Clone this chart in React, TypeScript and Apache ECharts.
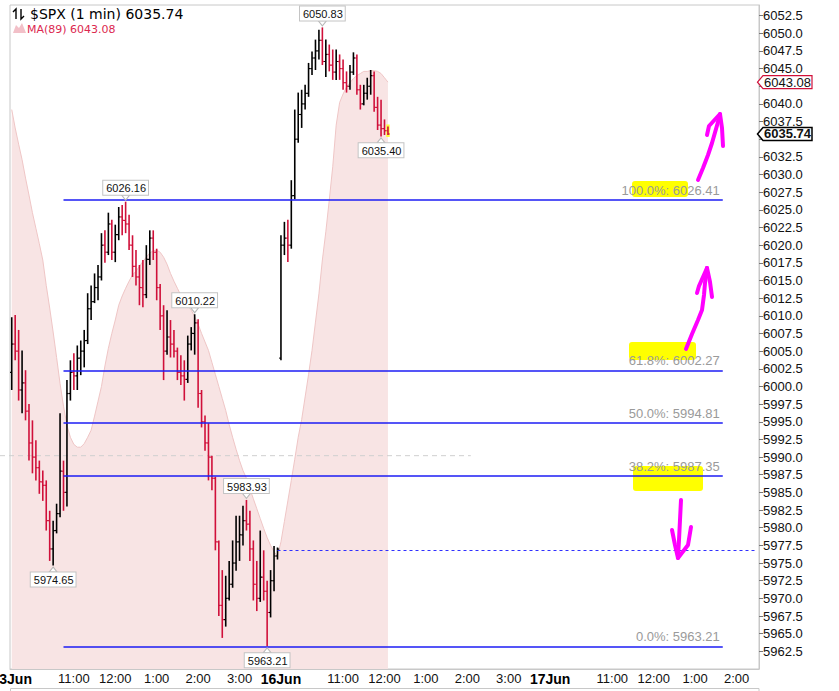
import { useEffect, useRef } from "react";
import * as echarts from "echarts";

// ---- axis structure (5-minute slots per trading session) ----
const DAYS = ["13Jun", "16Jun", "17Jun"];
const SLOTS_PER_DAY = [78, 78, 61];
const SESSION_START_MIN = 9 * 60 + 30;
const BAR_MINUTES = 5;

// ---- 13 Jun bars (OHLC) ----
const jun13Open = [6002, 6006, 6005, 5999.5, 6000.5, 5996.5, 5992, 5990, 5988.5, 5986.5, 5986, 5981, 5977, 5979.6, 5982, 5988, 5985, 5999, 6002, 6001.5, 6004, 6005, 6006.5, 6011, 6012, 6014, 6015.5, 6020, 6019, 6023, 6019, 6021.5, 6024, 6023.5, 6023, 6020, 6017, 6015.5, 6014, 6013, 6018, 6021, 6019, 6014, 6010, 6005, 6007, 6006, 6005, 6002, 6001.5, 6001, 6006, 6007.5, 6009, 5999, 5995, 5992, 5990, 5987, 5978, 5969, 5967, 5970, 5972, 5975, 5978, 5979, 5981, 5980.5, 5977, 5972, 5970, 5973, 5971, 5968, 5972.5, 5976];
const jun13High = [6009.8, 6010.1, 6008, 6005.1, 6002.3, 5997.5, 5995.2, 5992.4, 5989.5, 5988.1, 5986.7, 5982.4, 5981, 5983.4, 5996.2, 5989.5, 6000.9, 6003.7, 6004.7, 6005.8, 6006.5, 6008, 6013.2, 6014.3, 6016, 6017.2, 6021.7, 6022.1, 6024.6, 6023.6, 6022.9, 6025.4, 6025.7, 6026.16, 6024.3, 6021.4, 6019.3, 6017.2, 6017.9, 6020, 6022.1, 6022.1, 6019.5, 6014.5, 6011.5, 6010.8, 6009.4, 6008, 6005.5, 6004.4, 6003.7, 6007.2, 6008.4, 6010.22, 6009.5, 5999.5, 5995.9, 5994.8, 5990.2, 5987.2, 5978.2, 5974, 5973.2, 5975.3, 5978.2, 5981.7, 5981.7, 5983.1, 5983.93, 5982.4, 5978.2, 5975.3, 5979.6, 5976.8, 5972.5, 5974, 5977.4, 5977.2];
const jun13Low = [5999.5, 6003.7, 5998, 5996.2, 5995.2, 5989.5, 5987.7, 5986.7, 5984.8, 5983.8, 5979.6, 5975.3, 5974.65, 5979.2, 5981.5, 5982.4, 5983, 5998, 5999.5, 5999.5, 6001.6, 6002.7, 6006, 6009.4, 6011.8, 6012.2, 6015, 6017.5, 6018.6, 6017.9, 6017.6, 6020.7, 6021.4, 6021.7, 6019.3, 6015.5, 6014.3, 6011.5, 6011.2, 6012.5, 6017.2, 6017.9, 6012.2, 6008, 6000.9, 6004.5, 6004.1, 6004.1, 6000.9, 6000.2, 5998, 6000.5, 6005.1, 6004.5, 5997, 5994.2, 5990.9, 5986.7, 5985.3, 5976.8, 5967.5, 5964.4, 5966, 5969.7, 5971.5, 5973.9, 5975.3, 5977.5, 5979.6, 5975.3, 5969.7, 5968.2, 5969.5, 5969.7, 5963.21, 5967.3, 5971, 5975.5];
const jun13Close = [6006, 6005, 5999.5, 6000.5, 5996.5, 5992, 5990, 5988.5, 5986.5, 5986, 5981, 5977, 5979.6, 5982, 5988, 5985, 5999, 6002, 6001.5, 6004, 6005, 6006.5, 6011, 6012, 6014, 6015.5, 6020, 6019, 6023, 6019, 6021.5, 6024, 6023.5, 6023, 6020, 6017, 6015.5, 6014, 6013, 6018, 6021, 6019, 6014, 6010, 6005, 6007, 6006, 6005, 6002, 6001.5, 6001, 6006, 6007.5, 6009, 5999, 5995, 5992, 5990, 5987, 5978, 5969, 5967, 5970, 5972, 5975, 5978, 5979, 5981, 5980.5, 5977, 5972, 5970, 5973, 5971, 5968, 5972.5, 5976, 5976.97];

// ---- 16 Jun bars (OHLC) ----
const jun16Open = [6004, 6020, 6021, 6020, 6027, 6035, 6038.5, 6040, 6041.5, 6045, 6046.5, 6047.5, 6049, 6046, 6047, 6045.5, 6044.5, 6046, 6045, 6043, 6042.5, 6044.5, 6046.5, 6042, 6040, 6041.5, 6042.5, 6044, 6039.5, 6037, 6036.5, 6036.2];
const jun16High = [6021.4, 6023.3, 6023.6, 6029.2, 6039.2, 6041.6, 6042, 6042.7, 6045.8, 6047.4, 6049.1, 6050.5, 6050.83, 6049.1, 6048.4, 6047.7, 6047.7, 6047, 6046.3, 6044.6, 6045.5, 6047.3, 6047, 6042.7, 6042.7, 6043.7, 6044.8, 6044.6, 6041, 6040.6, 6037.8, 6036.8];
const jun16Low = [6003.7, 6018.6, 6017.6, 6019.5, 6026.5, 6034.5, 6036.6, 6039.2, 6041, 6044.1, 6044.8, 6046.3, 6045.5, 6043.8, 6044.6, 6043.4, 6043.4, 6043.4, 6042, 6041.6, 6042, 6044.1, 6041.3, 6039.2, 6039.8, 6040.6, 6041.3, 6038.9, 6036.3, 6035.4, 6035.6, 6035.6];
const jun16Close = [6020, 6021, 6020, 6027, 6035, 6038.5, 6040, 6041.5, 6045, 6046.5, 6047.5, 6049, 6046, 6047, 6045.5, 6044.5, 6046, 6045, 6043, 6042.5, 6044.5, 6046.5, 6042, 6040, 6041.5, 6042.5, 6044, 6039.5, 6037, 6036.5, 6036.2, 6035.74];

// ---- MA(89) ----
const ma13 = [6039.2, 6036.6, 6034.3, 6032.1, 6029.5, 6027.1, 6024.6, 6022.4, 6020.2, 6017.9, 6014.3, 6011.1, 6007.7, 6004.1, 6000.4, 5997.2, 5994.5, 5992.8, 5991.8, 5991.4, 5991.4, 5991.9, 5992.8, 5993.8, 5995.8, 5997.9, 6000.0, 6002.9, 6005.4, 6007.5, 6009.4, 6011.5, 6012.8, 6013.9, 6014.9, 6015.8, 6016.3, 6017.0, 6017.7, 6018.3, 6018.9, 6019.2, 6019.3, 6019.0, 6018.3, 6017.3, 6016.0, 6014.9, 6013.9, 6012.9, 6012.1, 6011.4, 6010.8, 6009.9, 6008.8, 6007.5, 6006.3, 6005.1, 6003.4, 6001.7, 6000.0, 5998.3, 5996.6, 5994.6, 5992.8, 5991.1, 5989.5, 5988.1, 5987.0, 5985.5, 5984.1, 5982.7, 5981.3, 5979.9, 5978.6, 5977.5, 5976.6, 5976.0];
const ma16 = [5978.0, 5980.9, 5983.8, 5986.7, 5989.7, 5992.8, 5995.3, 5998.5, 6001.7, 6005.1, 6009.1, 6013.1, 6017.9, 6021.9, 6026.4, 6031.1, 6037.0, 6040.2, 6041.4, 6042.4, 6043.0, 6043.6, 6044.0, 6044.3, 6044.6, 6044.6, 6044.7, 6044.7, 6044.6, 6044.3, 6043.7, 6043.08];

// ---- Fibonacci retracement ----
const fibLevels = ["100.0%", "61.8%", "50.0%", "38.2%", "0.0%"];
const fibValues = [6026.41, 6002.27, 5994.81, 5987.35, 5963.21];
const FIB_FROM_SLOT = 15;
const FIB_TO_SLOT = 206;

// ---- other levels & annotations ----
const prevClose = 5976.8;
const PREV_CLOSE_FROM_SLOT = 77;
const lastPrice = 6035.74;
const lastMA = 6043.08;
const crosshairValue = 5990.2;
const CROSSHAIR_TO_SLOT = 133;
const highMarks: [number, number][] = [[90, 6050.83], [33, 6026.16], [53, 6010.22], [68, 5983.93]];
const lowMarks: [number, number][] = [[107, 6035.4], [12, 5974.65], [74, 5963.21]];
// axis labels hidden under the value flags on the right axis
const hiddenAxisValues = [6042.5, 6035];

// hand-drawn markup on the screenshot (page pixels)
const highlighterRects = [
  [632, 181, 56, 16],
  [629, 342, 67, 18],
  [633, 466, 70, 25],
];
const penStrokes = [
  [[698, 180], [703, 168], [708, 155], [712, 143], [716, 129], [720, 115]],
  [[707, 135], [709, 126], [720, 114]],
  [[720, 114], [722, 128], [723, 146]],
  [[686, 349], [692, 334], [698, 320], [702, 310], [704, 295], [705, 283], [707, 268]],
  [[697, 293], [699, 286], [707, 268]],
  [[707, 268], [710, 282], [712, 297]],
  [[681, 500], [680, 520], [679, 540], [678, 557]],
  [[672, 530], [675, 545], [678, 558]],
  [[691, 527], [688, 545], [678, 558]],
];

const FONT = '"Liberation Sans", Arial, sans-serif';

function pad(n: number) {
  return n < 10 ? "0" + n : "" + n;
}

const categories: string[] = [];
DAYS.forEach((d, di) => {
  for (let i = 0; i < SLOTS_PER_DAY[di]; i++) {
    const m = SESSION_START_MIN + i * BAR_MINUTES;
    categories.push(`${d} ${pad(Math.floor(m / 60))}:${pad(m % 60)}`);
  }
});

const ohlc: number[][] = [];
jun13Open.forEach((o, i) => ohlc.push([i, o, jun13Close[i], jun13Low[i], jun13High[i]]));
jun16Open.forEach((o, i) => ohlc.push([SLOTS_PER_DAY[0] + i, o, jun16Close[i], jun16Low[i], jun16High[i]]));
const maData = [...ma13, ...ma16];

function labelFor(value: string): string | null {
  const [d, t] = value.split(" ");
  if (t === "09:30") return `{d|${d}}`;
  const [hs, ms] = t.split(":");
  const h = parseInt(hs, 10);
  if (ms === "00" && h >= 11) return `${h > 12 ? h - 12 : h}:00`;
  return null;
}

const boxLabel = {
  show: true,
  color: "#111",
  fontSize: 11,
  fontFamily: FONT,
  backgroundColor: "#fff",
  borderColor: "#c4c4c4",
  borderWidth: 1,
  padding: [2, 2, 1, 3],
  lineHeight: 11,
  distance: 0,
};

export default function App() {
  const ref = useRef<HTMLDivElement>(null);

  useEffect(() => {
    document.body.style.margin = "0";
    const chart = echarts.init(ref.current!, null, { renderer: "svg" });
    const lastIndex = ohlc.length - 1;

    const option: any = {
      animation: false,
      backgroundColor: "#fff",
      grid: {
        left: 10,
        top: 5,
        width: 749,
        height: 664,
        show: true,
        borderColor: "#c8c8c8",
        borderWidth: 1,
        containLabel: false,
        outerBoundsMode: "none",
      },
      xAxis: {
        type: "category",
        data: categories,
        boundaryGap: true,
        axisLine: { show: true, lineStyle: { color: "#c8c8c8" } },
        axisTick: { show: false },
        splitLine: { show: false },
        axisLabel: {
          interval: (_i: number, v: string) => labelFor(v) !== null,
          formatter: (v: string) => labelFor(v) || "",
          color: "#111",
          fontSize: 13,
          fontFamily: FONT,
          margin: 3,
          alignMinLabel: "center",
          alignMaxLabel: "center",
          hideOverlap: false,
          rich: { d: { fontWeight: "bold", fontSize: 14, fontFamily: FONT, color: "#000" } },
        },
      },
      yAxis: {
        type: "value",
        position: "right",
        min: 5960,
        max: 6054,
        interval: 2.5,
        axisLine: { show: true, lineStyle: { color: "#c8c8c8" } },
        axisTick: { show: true, length: 4, lineStyle: { color: "#777" } },
        splitLine: { show: false },
        axisLabel: {
          color: "#111",
          fontSize: 13,
          lineHeight: 12,
          fontFamily: FONT,
          margin: 4,
          showMinLabel: false,
          showMaxLabel: false,
          formatter: (v: number) => (hiddenAxisValues.some((h) => Math.abs(h - v) < 1e-6) ? "" : v.toFixed(1)),
        },
      },
      series: [
        {
          name: "MA(89)",
          type: "line",
          data: maData,
          symbol: "none",
          z: 1,
          lineStyle: { color: "#efc6c6", width: 1 },
          areaStyle: { color: "#f8e4e4", opacity: 1, origin: "start" },
          markLine: {
            silent: true,
            symbol: ["none", "none"],
            data: [
              ...fibValues.map((v, i) => [
                {
                  coord: [categories[FIB_FROM_SLOT], v],
                  lineStyle: { color: "#1c1cf5", width: 1.5, type: "solid" },
                  label: {
                    show: true,
                    position: "insideEndTop",
                    distance: 3,
                    formatter: `${fibLevels[i]}: ${v.toFixed(2)}`,
                    color: "#9a9a9a",
                    fontSize: 13,
                    fontFamily: FONT,
                  },
                },
                { coord: [categories[FIB_TO_SLOT], v] },
              ]),
              [
                {
                  coord: [categories[PREV_CLOSE_FROM_SLOT], prevClose],
                  lineStyle: { color: "#3030ff", width: 1, type: [3, 3] },
                  label: { show: false },
                },
                { coord: [categories[categories.length - 1], prevClose] },
              ],
            ],
          },
          markPoint: {
            silent: true,
            data: [
              ...highMarks.map(([k, v]) => ({
                coord: [categories[k], v],
                symbol: "path://M0,0L10,0L5,6Z",
                symbolSize: [8, 5],
                symbolOffset: [0, -4],
                itemStyle: { color: "#fff", borderColor: "#b8b8b8", borderWidth: 1 },
                label: { ...boxLabel, position: "top", formatter: v.toFixed(2) },
              })),
              ...lowMarks.map(([k, v]) => ({
                coord: [categories[k], v],
                symbol: "path://M5,0L10,6L0,6Z",
                symbolSize: [8, 5],
                symbolOffset: [0, 4],
                itemStyle: { color: "#fff", borderColor: "#b8b8b8", borderWidth: 1 },
                label: { ...boxLabel, position: "bottom", formatter: v.toFixed(2) },
              })),
            ],
          },
        },
        {
          name: "$SPX",
          type: "custom",
          z: 3,
          data: ohlc,
          encode: { x: 0, y: [1, 2, 3, 4] },
          renderItem: (params: any, api: any) => {
            const idx = api.value(0);
            const o = api.value(1);
            const c = api.value(2);
            const lo = api.value(3);
            const hi = api.value(4);
            const pH = api.coord([idx, hi]);
            const pL = api.coord([idx, lo]);
            const pO = api.coord([idx, o]);
            const pC = api.coord([idx, c]);
            const w = api.size([1, 0])[0];
            const x = pH[0];
            const t = w * 0.5;
            const color = c >= o ? "#000" : "#d0103a";
            const children: any[] = [];
            if (params.dataIndex === lastIndex) {
              children.push({
                type: "rect",
                shape: { x: x - w / 2, y: pH[1] - 2, width: w, height: pL[1] - pH[1] + 4 },
                style: { fill: "#ffff3a" },
              });
            }
            children.push(
              { type: "line", shape: { x1: x, y1: pH[1], x2: x, y2: pL[1] }, style: { stroke: color, lineWidth: 1.6 } },
              { type: "line", shape: { x1: x - t, y1: pO[1], x2: x, y2: pO[1] }, style: { stroke: color, lineWidth: 1.2 } },
              { type: "line", shape: { x1: x, y1: pC[1], x2: x + t, y2: pC[1] }, style: { stroke: color, lineWidth: 1.2 } }
            );
            return { type: "group", children };
          },
        },
      ],
    };

    chart.setOption(option);

    const px = (k: number, v: number) => chart.convertToPixel({ gridIndex: 0 }, [categories[k], v]) as number[];
    const yMA = px(0, lastMA)[1];
    const yLast = px(0, lastPrice)[1];
    const ch0 = px(0, crosshairValue);
    const ch1 = px(CROSSHAIR_TO_SLOT, crosshairValue);
    const axisX = 759;

    const valueBox = (y: number, text: string, stroke: string, bold: boolean) => ({
      type: "group",
      z: 100,
      children: [
        {
          type: "polygon",
          z: 100,
          shape: { points: [[axisX - 1.5, y], [axisX + 4, y - 6.5], [axisX + 53, y - 6.5], [axisX + 53, y + 6.5], [axisX + 4, y + 6.5]] },
          style: { fill: "#fff", stroke, lineWidth: bold ? 1.5 : 1.2 },
        },
        {
          type: "text",
          z: 101,
          x: axisX + 5,
          y,
          style: {
            text,
            fill: "#111",
            font: `${bold ? "bold " : ""}13px ${FONT}`,
            lineHeight: 12,
            verticalAlign: "middle",
            textVerticalAlign: "middle",
          },
        },
      ],
    });

    const icon = (pts: number[][]) => ({
      type: "polyline",
      z: 110,
      shape: { points: pts },
      style: { stroke: "#000", lineWidth: 1.4, fill: null },
    });

    const graphics: any[] = [
      {
        type: "line",
        z: 1,
        shape: { x1: 0, y1: ch0[1], x2: ch1[0], y2: ch1[1] },
        style: { stroke: "#cfcfcf", lineWidth: 1, lineDash: [5, 4] },
      },
      ...highlighterRects.map(([x, y, w, h]) => ({
        type: "rect",
        z: 1,
        shape: { x, y, width: w, height: h, r: 3 },
        style: { fill: "#ffff00" },
      })),
      ...penStrokes.map((pts) => ({
        type: "polyline",
        z: 120,
        shape: { points: pts },
        style: { stroke: "#ff00ff", lineWidth: 4, lineCap: "round", lineJoin: "round", fill: null },
      })),
      valueBox(yMA, lastMA.toFixed(2), "#d0103a", false),
      valueBox(yLast, lastPrice.toFixed(2), "#000", true),
      icon([[16, 19], [16, 9], [13, 12]]),
      icon([[21, 9], [21, 19], [24, 16]]),
      {
        type: "text",
        z: 110,
        x: 30,
        y: 14,
        style: {
          text: `$SPX (1 min) ${lastPrice.toFixed(2)}`,
          fill: "#000",
          font: '14px "DejaVu Sans"',
          verticalAlign: "middle",
          textVerticalAlign: "middle",
        },
      },
      {
        type: "polygon",
        z: 110,
        shape: { points: [[13, 33], [16, 25], [19, 28], [22, 23], [26, 33]] },
        style: { fill: "#f2c0c8" },
      },
      {
        type: "text",
        z: 110,
        x: 27,
        y: 29,
        style: {
          text: `MA(89) ${lastMA.toFixed(2)}`,
          fill: "#dc2850",
          font: '11px "DejaVu Sans"',
          verticalAlign: "middle",
          textVerticalAlign: "middle",
        },
      },
      {
        type: "rect",
        z: 1,
        shape: { x: 10.5, y: 688.5, width: 748.5, height: 20 },
        style: { fill: "none", stroke: "#c8c8c8", lineWidth: 1 },
      },
    ];

    chart.setOption({ graphic: graphics });

    return () => chart.dispose();
  }, []);

  return <div ref={ref} style={{ position: "fixed", left: 0, top: 0, width: 839, height: 691 }} />;
}
